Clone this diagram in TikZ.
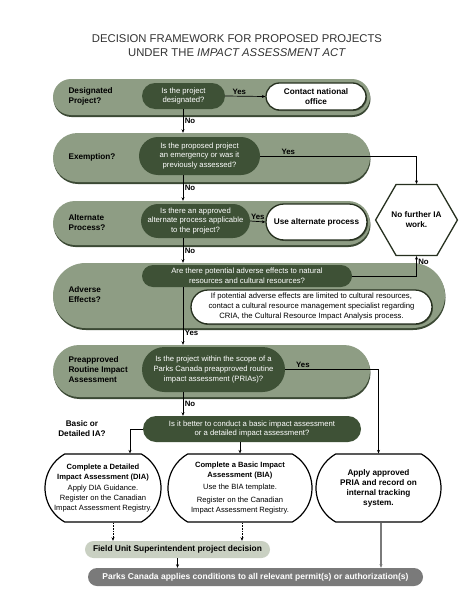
\documentclass[tikz,border=0pt]{standalone}
\usepackage{fontspec}
\setmainfont{Liberation Sans}
\usetikzlibrary{arrows.meta,shapes.misc,shapes.geometric,shadows}

\definecolor{bandgreen}{HTML}{8E9D84}
\definecolor{bandshade}{HTML}{3B4934}
\definecolor{pillgreen}{HTML}{3E5136}
\definecolor{fieldgrey}{HTML}{C9D0C2}
\definecolor{parksgrey}{HTML}{7A7A7A}
\definecolor{edgedark}{HTML}{26301F}

\tikzset{
  band/.style={rounded rectangle, fill=bandgreen, inner sep=0pt,
    drop shadow={shadow xshift=0.5pt, shadow yshift=-2pt, fill=bandshade, opacity=1}},
  question/.style={rounded rectangle, fill=pillgreen, text=white, align=center,
    inner sep=0pt, font=\fontsize{7.7}{9.8}\selectfont},
  outcome/.style={rounded rectangle, fill=white, draw=edgedark, line width=1.3pt,
    align=center, inner sep=0pt, font=\fontsize{8.2}{10}\selectfont\bfseries,
    drop shadow={shadow xshift=1pt, shadow yshift=-1pt, fill=edgedark, opacity=0.6}},
  iabox/.style={rounded rectangle, rounded rectangle arc length=120, fill=white,
    draw=black, line width=1.2pt, align=center, inner sep=0pt,
    minimum height=68pt, font=\fontsize{7.6}{10}\selectfont},
  steplabel/.style={anchor=west, align=left, font=\fontsize{8.2}{10}\selectfont\bfseries},
  answer/.style={font=\fontsize{7.8}{8}\selectfont\bfseries, inner sep=1.5pt},
  flow/.style={-{Stealth[length=3.5pt,width=3pt]}, line width=0.7pt},
}

\begin{document}
\begin{tikzpicture}[x=1pt,y=-1pt]
    \fill[white] (0,0) rectangle (474,613);
    \useasboundingbox (0,0) rectangle (474,613);

    % Title %
    \node[align=center, font=\fontsize{11.3}{14}\selectfont, text=black!80] (title) at (237,46)
      {DECISION FRAMEWORK FOR PROPOSED PROJECTS\\UNDER THE \textit{IMPACT ASSESSMENT ACT}};

    % Bands %
    \node[band, minimum width=317pt, minimum height=36pt] (b1) at (211.5,97) {};
    \node[band, minimum width=317pt, minimum height=49pt] (b2) at (211.5,157.5) {};
    \node[band, minimum width=317pt, minimum height=44pt] (b3) at (211.5,223) {};
    \node[band, minimum width=392pt, minimum height=65pt] (b4) at (249,295.5) {};
    \node[band, minimum width=317pt, minimum height=52pt] (b5) at (211.5,371) {};

    \node[steplabel] (lab1) at (65,96) {Designated\\Project?};
    \node[steplabel] (lab2) at (65,157) {Exemption?};
    \node[steplabel] (lab3) at (65,223) {Alternate\\Process?};
    \node[steplabel] (lab4) at (65,295) {Adverse\\Effects?};
    \node[steplabel] (lab5) at (65,370) {Preapproved\\Routine Impact\\Assessment};
    \node[steplabel, anchor=center, align=center] (lab6) at (82,429) {Basic or\\Detailed IA?};

    % Questions %
    \node[question, minimum width=83pt, minimum height=26pt] (q1) at (183.5,96)
      {Is the project\\designated?};
    \node[question, minimum width=121pt, minimum height=38pt] (q2) at (199.5,156)
      {Is the proposed project\\an emergency or was it\\previously assessed?};
    \node[question, minimum width=103pt, minimum height=34pt] (q3) at (195.5,221)
      {Is there an approved\\alternate process applicable\\to the project?};
    \node[question, minimum width=210pt, minimum height=22pt] (q4) at (247,276)
      {Are there potential adverse effects to natural\\resources and cultural resources?};
    \node[question, minimum width=143pt, minimum height=45pt] (q5) at (213.5,369.5)
      {Is the project within the scope of a\\Parks Canada preapproved routine\\impact assessment (PRIAs)?};
    \node[question, minimum width=218pt, minimum height=26pt] (q6) at (252,429)
      {Is it better to conduct a basic impact assessment\\or a detailed impact assessment?};

    % Outcomes %
    \node[outcome, minimum width=100pt, minimum height=27pt] (o1) at (316,96.5)
      {Contact national\\office};
    \node[outcome, minimum width=101pt, minimum height=36pt] (o3) at (316.5,222)
      {Use alternate process};
    \node[outcome, minimum width=241pt, minimum height=34pt, font=\fontsize{7.7}{10}\selectfont] (o4) at (311.5,307)
      {If potential adverse effects are limited to cultural resources,\\contact a cultural resource management specialist regarding\\CRIA, the Cultural Resource Impact Analysis process.};
    \node[regular polygon, regular polygon sides=6, minimum size=79pt, inner sep=0pt,
      fill=white, draw=edgedark, line width=1.3pt, align=center,
      font=\fontsize{8.2}{10}\selectfont\bfseries] (nf) at (416.5,220) {No further IA\\work.};

    \node[iabox, minimum width=116pt] (dia) at (103,488)
      {\textbf{Complete a Detailed}\\\textbf{Impact Assessment (DIA)}\\[1pt]
       Apply DIA Guidance.\\Register on the Canadian\\Impact Assessment Registry.};
    \node[iabox, minimum width=144pt] (bia) at (240,488)
      {\textbf{Complete a Basic Impact}\\\textbf{Assessment (BIA)}\\[2pt]
       Use the BIA template.\\[3pt]Register on the Canadian\\Impact Assessment Registry.};
    \node[iabox, minimum width=125pt, font=\fontsize{8.2}{10}\selectfont\bfseries] (pria) at (378.5,488)
      {Apply approved\\PRIA and record on\\internal tracking\\system.};

    \node[rounded rectangle, fill=fieldgrey, minimum width=185pt, minimum height=17pt, inner sep=0pt,
      font=\fontsize{8.4}{9}\selectfont\bfseries] (fu) at (177.5,549.5)
      {Field Unit Superintendent project decision};
    \node[rounded rectangle, fill=parksgrey, text=white, minimum width=335pt, minimum height=18pt, inner sep=0pt,
      font=\fontsize{8.5}{9}\selectfont\bfseries] (pc) at (255.5,577)
      {Parks Canada applies conditions to all relevant permit(s) or authorization(s)};

    % Connectors %
    \coordinate (spine) at (183,0);
    \draw[flow] (q1.east) -- (o1.west) node[pos=0.35, above, answer] {Yes};
    \draw[flow] (q1.south -| spine) -- (spine |- b2.north) node[midway, right, answer] {No};
    \draw[flow] (q2.east) -| (nf.north) node[pos=0.09, above, answer] {Yes};
    \draw[flow] (q2.south -| spine) -- (spine |- b3.north) node[midway, right, answer] {No};
    \draw[flow] (q3.east) -- (o3.west) node[midway, above, answer] {Yes};
    \draw[flow] (q3.south -| spine) -- (spine |- b4.north) node[midway, right, answer] {No};
    \draw[flow] (q4.east) -| (nf.south) node[pos=0.85, right, answer] {No};
    \draw[flow] (q4.south -| spine) -- (spine |- b5.north) node[pos=0.8, right, answer] {Yes};
    \draw[flow] (q5.east) -| (pria.north) node[pos=0.095, above, answer] {Yes};
    \draw[flow] (q5.south -| spine) -- (spine |- q6.north) node[midway, right, answer] {No};
    \draw[flow] (q6.west) -| ([xshift=27pt]dia.north);
    \draw[flow] (q6.south -| bia.north) -- (bia.north);

    \draw[flow, dash pattern=on 1.5pt off 1.2pt] ([xshift=10pt]dia.south) -- ([xshift=10pt]dia.south |- fu.north);
    \draw[flow, dash pattern=on 1.5pt off 1.2pt] ([xshift=2pt]bia.south) -- ([xshift=2pt]bia.south |- fu.north);
    \draw[flow] (fu.south) -- (fu.south |- pc.north);
    \draw[flow, draw=parksgrey, line width=1.3pt] ([xshift=2.5pt]pria.south) -- ([xshift=2.5pt]pria.south |- pc.north);
\end{tikzpicture}
\end{document}
